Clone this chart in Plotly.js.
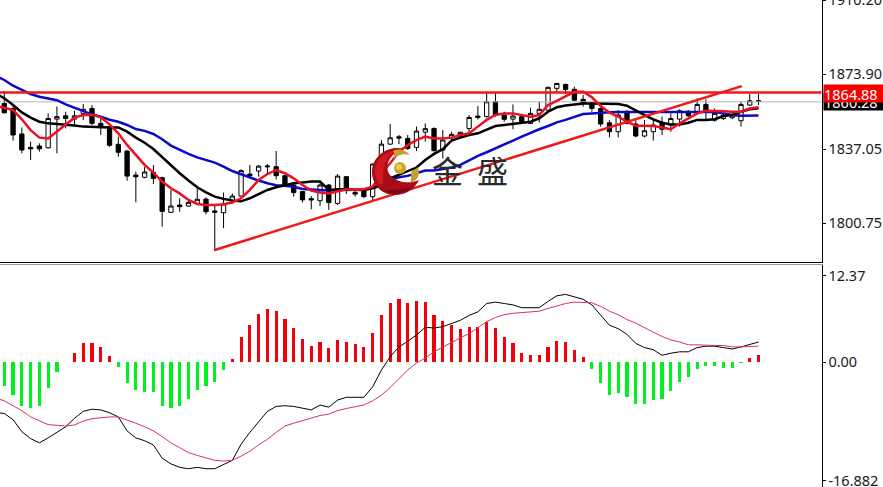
<!DOCTYPE html>
<html><head><meta charset="utf-8">
<script src="https://cdn.plot.ly/plotly-3.0.1.min.js"></script>
<style>html,body{margin:0;padding:0;background:#fff;overflow:hidden}</style>
</head><body><div id="chart" style="width:883px;height:487px"></div>
<script>
const candleOpen=[1859.5,1857.0,1844.5,1837.9,1838.6,1837.7,1851.8,1853.4,1851.8,1854.6,
1857.0,1849.7,1848.1,1839.4,1836.1,1824.3,1823.2,1825.6,1823.0,1806.0,
1809.6,1809.1,1810.4,1812.5,1806.7,1805.8,1811.6,1814.0,1824.8,1826.3,
1828.3,1828.4,1824.0,1819.4,1816.2,1812.7,1811.7,1819.4,1810.4,1823.5,
1815.7,1816.7,1813.7,1833.0,1839.5,1843.1,1842.3,1837.9,1845.4,1847.2,
1836.6,1842.6,1843.5,1847.2,1853.3,1853.0,1860.3,1853.8,1851.8,1853.0,
1849.7,1854.6,1856.2,1866.9,1868.8,1866.4,1861.5,1859.5,1857.0,1850.0,
1845.6,1855.4,1849.4,1843.5,1845.6,1849.7,1848.9,1851.8,1855.6,1854.6,
1859.0,1851.3,1852.1,1852.5,1851.0,1858.7,1860.8];
const candleHigh=[1865.7,1858.7,1847.7,1840.7,1839.9,1854.6,1857.9,1855.4,1855.9,1859.2,
1858.7,1853.0,1848.9,1843.2,1836.6,1826.0,1828.4,1829.2,1823.5,1817.0,
1812.9,1811.7,1817.8,1813.4,1809.6,1815.7,1815.3,1827.1,1829.2,1829.2,
1829.7,1836.1,1824.3,1820.2,1816.2,1814.0,1820.2,1819.9,1824.8,1823.8,
1817.0,1817.0,1830.1,1841.5,1849.4,1844.0,1844.0,1848.1,1849.7,1847.7,
1846.4,1845.6,1845.6,1853.8,1858.2,1864.7,1864.7,1855.4,1859.0,1853.8,
1857.4,1860.3,1867.7,1869.6,1869.3,1867.7,1863.6,1860.3,1857.5,1851.3,
1856.2,1856.2,1851.3,1851.3,1851.3,1853.0,1854.6,1856.6,1856.2,1862.0,
1861.5,1857.0,1854.6,1854.6,1860.3,1864.1,1864.1];
const candleLow=[1854.6,1841.2,1835.0,1831.7,1835.8,1837.4,1835.0,1847.2,1848.1,1851.3,
1848.9,1844.0,1838.2,1833.3,1821.5,1810.9,1822.7,1819.9,1799.0,1805.8,
1806.3,1808.8,1809.6,1805.0,1787.0,1798.2,1810.4,1813.7,1822.7,1823.5,
1825.2,1822.2,1818.6,1813.7,1810.8,1807.5,1809.1,1807.2,1809.6,1815.0,
1813.7,1813.0,1811.7,1828.4,1839.1,1839.5,1836.6,1836.1,1840.7,1835.8,
1832.5,1841.5,1842.3,1844.0,1851.6,1852.6,1853.0,1850.5,1846.8,1849.7,
1849.4,1850.2,1855.4,1865.2,1864.1,1860.6,1857.9,1855.4,1848.1,1842.8,
1842.8,1849.2,1842.8,1842.8,1841.2,1844.0,1845.6,1848.1,1853.0,1853.8,
1851.3,1850.5,1851.3,1851.8,1848.1,1858.2,1858.7];
const candleClose=[1854.9,1844.0,1836.6,1837.2,1837.2,1852.1,1853.0,1852.1,1853.4,1856.6,
1849.7,1848.1,1838.9,1835.5,1823.8,1823.5,1825.8,1822.7,1806.5,1809.1,
1808.8,1810.9,1812.4,1806.3,1806.0,1810.1,1814.0,1826.5,1824.0,1828.7,
1828.7,1824.0,1819.4,1815.7,1812.1,1812.1,1819.4,1810.8,1823.8,1817.3,
1815.0,1813.7,1829.7,1839.5,1842.6,1842.5,1837.4,1845.9,1847.1,1836.3,
1841.5,1844.3,1845.3,1852.6,1852.6,1860.3,1853.8,1851.7,1853.3,1850.0,
1854.6,1856.6,1867.4,1869.3,1866.4,1861.1,1859.5,1857.0,1849.4,1845.6,
1853.8,1849.7,1843.5,1846.1,1848.9,1846.8,1852.1,1855.9,1853.4,1859.0,
1855.9,1854.6,1853.8,1853.8,1859.0,1860.8,1860.5];

// moving averages, first value belongs to the candle just left of the window
const maSlow=[1873.2,1871.0,1868.2,1866.0,1864.1,1862.8,1862.0,1861.1,1859.0,1857.4,1855.9,
1854.1,1853.0,1851.5,1850.5,1848.9,1846.9,1846.0,1844.5,1841.9,1838.8,
1836.6,1834.7,1833.0,1831.7,1830.4,1828.5,1826.3,1824.7,1823.1,1821.6,
1820.3,1819.3,1819.0,1818.6,1817.5,1817.3,1817.0,1816.7,1817.0,1817.0,
1816.8,1817.1,1818.3,1819.4,1821.9,1823.2,1823.9,1825.2,1826.5,1826.5,
1827.1,1828.0,1829.3,1831.7,1833.7,1835.5,1837.3,1839.1,1841.2,1843.2,
1845.1,1846.8,1848.4,1850.2,1851.4,1852.7,1854.3,1854.6,1855.0,1855.1,
1855.3,1855.3,1855.4,1855.3,1855.1,1855.1,1855.1,1855.3,1855.3,1855.1,
1855.3,1855.3,1854.6,1853.8,1853.5,1853.6,1853.6];
const maMid=[1864.4,1862.0,1858.7,1855.1,1852.5,1850.5,1849.7,1849.4,1849.0,1848.7,1848.1,
1847.9,1847.7,1847.7,1847.7,1845.6,1842.7,1840.2,1837.1,1833.0,1828.9,
1825.2,1821.6,1818.3,1815.8,1813.7,1812.6,1811.8,1811.4,1812.9,1815.0,
1817.0,1818.3,1819.3,1820.3,1820.7,1821.1,1821.1,1817.0,1817.3,1817.3,
1817.0,1817.0,1817.8,1819.4,1822.7,1824.4,1826.0,1828.0,1831.7,1834.7,
1837.0,1841.2,1842.7,1844.0,1844.8,1846.8,1848.4,1848.9,1849.4,1850.0,
1850.5,1852.2,1855.4,1857.6,1858.5,1859.0,1859.5,1859.5,1859.5,1859.5,
1859.2,1858.4,1855.9,1853.8,1851.7,1850.0,1849.2,1849.2,1850.0,1851.4,
1851.4,1851.7,1853.3,1853.8,1855.4,1856.6,1857.1];
const maFast=[1858.2,1857.4,1856.2,1851.7,1846.4,1842.7,1842.3,1845.6,1849.2,1852.5,1853.8,
1853.9,1852.7,1849.2,1844.8,1839.1,1834.2,1829.3,1825.5,1821.1,1817.8,
1815.3,1812.1,1810.1,1809.6,1809.6,1810.0,1810.8,1812.9,1817.0,1821.9,
1824.8,1826.8,1825.2,1822.7,1819.4,1816.7,1815.7,1815.3,1816.2,1817.3,
1817.0,1817.3,1818.6,1825.2,1830.1,1835.8,1839.1,1841.5,1843.2,1842.3,
1842.3,1842.7,1844.0,1844.8,1848.1,1851.4,1853.8,1854.6,1854.6,1853.8,
1853.0,1853.8,1858.7,1860.8,1863.1,1865.2,1865.2,1862.5,1858.2,1855.0,
1853.0,1850.5,1848.5,1848.4,1848.4,1847.7,1846.8,1849.7,1852.2,1854.6,
1855.9,1855.9,1855.6,1855.4,1855.4,1857.0,1857.6];

const trendIdx=[24,84.1];
const trendPrice=[1787.5,1868.0];
const resistance=1864.88;
const bidPrice=1860.28;

const histValues=[-3.4,-4.7,-6.2,-6.5,-6.2,-3.6,-1.4,0.1,1.4,2.7,2.7,2.2,0.95,-0.6,-3.0,-4.0,-4.2,-4.2,-6.2,-6.5,
-6.2,-5.2,-3.9,-3.4,-2.8,-1.1,0.5,3.6,5.3,6.9,7.6,7.3,6.2,4.9,3.4,2.4,2.9,2.0,3.2,2.9,
2.6,2.2,4.2,6.7,8.5,9.1,8.5,8.8,8.6,6.7,5.9,5.4,4.7,5.0,5.0,5.7,4.9,3.6,2.8,1.4,
1.1,1.0,2.2,3.0,2.9,1.8,0.7,-0.95,-2.9,-4.7,-4.4,-4.9,-5.9,-6.0,-5.4,-5.2,-4.1,-2.8,-2.1,-0.95,
-0.5,-0.5,-0.8,-0.8,-0.1,0.6,1.0];
const macdLine=[-7.2,-7.3,-8.2,-9.9,-10.9,-11.5,-10.8,-10.0,-9.2,-8.0,-7.0,-6.7,-6.8,-7.2,-7.8,-9.8,-10.8,-11.2,-11.8,-13.7,-14.5,
-15.0,-15.2,-15.0,-15.2,-15.2,-14.6,-14.0,-11.7,-10.0,-8.5,-7.0,-6.3,-6.2,-6.3,-6.6,-6.8,-6.1,-6.4,-5.4,-5.0,
-5.0,-5.0,-3.5,-1.1,0.8,2.2,3.0,3.9,5.0,4.9,5.1,5.6,6.0,6.7,7.2,8.4,8.6,8.4,8.2,7.8,
7.8,7.8,8.7,9.5,9.7,9.4,9.0,8.2,6.8,5.3,4.8,4.0,2.7,2.1,1.8,1.0,1.3,1.5,1.5,2.1,
2.3,2.3,2.1,1.9,2.2,2.6,2.9];
const signalLine=[-5.1,-5.5,-6.2,-6.9,-7.8,-8.4,-8.9,-9.0,-9.1,-8.95,-8.4,-8.05,-7.9,-7.8,-7.8,-8.2,-8.7,-9.2,-9.8,-10.6,-11.5,
-12.2,-12.9,-13.3,-13.7,-14.0,-14.1,-14.0,-13.4,-12.7,-11.8,-11.0,-10.0,-9.1,-8.7,-8.3,-8.0,-7.6,-7.4,-6.9,-6.6,
-6.3,-6.1,-5.5,-4.7,-3.6,-2.3,-1.1,-0.1,0.6,1.5,2.2,2.9,3.5,4.1,4.9,5.8,6.4,6.8,7.0,7.1,
7.2,7.3,7.7,8.1,8.4,8.6,8.6,8.5,8.0,7.3,6.8,6.1,5.6,4.9,4.3,3.7,3.2,2.9,2.5,2.5,
2.4,2.4,2.4,2.2,2.2,2.3,2.3];

const priceTicks=[1910.20,1873.90,1837.05,1800.75];
const priceTickLabels=['1910.20','1873.90','1837.05','1800.75'];
const macdTicks=[12.37,0,-16.882];
const macdTickLabels=['12.37','0.00','-16.882'];
const brandText='金\u00a0\u00a0盛';

const candleIdx=candleOpen.map((_,i)=>i);
const maIdx=maSlow.map((_,i)=>i-1);
const fullSpan=[-2,95];
const W=883,H=487;
const px=x=>x/W, py=y=>1-y/H;
const pathOf=pts=>pts.map(s=>typeof s==='string'?s:px(s[0])+','+py(s[1])).join(' ');
const axisFont={family:'"Noto Sans",sans-serif',size:14.5,color:'#1a1a1a'};

const traces=[
 {type:'scatter',mode:'lines',x:fullSpan,y:[bidPrice,bidPrice],line:{color:'#b4b4b4',width:1},hoverinfo:'skip'},
 {type:'candlestick',x:candleIdx,open:candleOpen,high:candleHigh,low:candleLow,close:candleClose,
  increasing:{line:{color:'#000',width:1},fillcolor:'#fff'},
  decreasing:{line:{color:'#000',width:1},fillcolor:'#000'},whiskerwidth:0,hoverinfo:'skip'},
 {type:'scatter',mode:'lines',x:maIdx,y:maSlow,line:{color:'#0a0ac8',width:2.5}},
 {type:'scatter',mode:'lines',x:maIdx,y:maMid,line:{color:'#000',width:2.5}},
 {type:'scatter',mode:'lines',x:maIdx,y:maFast,line:{color:'#ec1020',width:2.5}},
 {type:'scatter',mode:'lines',x:trendIdx,y:trendPrice,line:{color:'#f01818',width:2.5}},
 {type:'scatter',mode:'lines',x:fullSpan,y:[resistance,resistance],line:{color:'#f01818',width:2.5}},
 {type:'bar',x:candleIdx,y:histValues,width:0.36,xaxis:'x2',yaxis:'y2',
  marker:{color:histValues.map(v=>v>=0?'#f00008':'#00f020'),line:{width:0}}},
 {type:'scatter',mode:'lines',x:maIdx,y:macdLine,xaxis:'x2',yaxis:'y2',line:{color:'#000',width:1}},
 {type:'scatter',mode:'lines',x:maIdx,y:signalLine,xaxis:'x2',yaxis:'y2',line:{color:'#d83068',width:1}}
];

const shapes=[
 {type:'path',xref:'paper',yref:'paper',layer:'above',line:{width:0},fillcolor:'#a80c18',
  path:pathOf(['M',[403,149],'C',[390,145],[372,155],[372,172],'C',[372,185],[382,195],[395,195],'C',[405,195],[414,190],[419,180],'C',[410,184],[398,183],[391,176],'C',[385,170],[385,156],[403,149],'Z'])},
 {type:'path',xref:'paper',yref:'paper',layer:'above',line:{width:0},fillcolor:'#d01822',
  path:pathOf(['M',[398,150],'C',[385,151],[375,160],[375,172],'C',[375,178],[378,183],[382,186],'C',[384,180],[382,172],[385,164],'C',[387,157],[392,153],[398,150],'Z'])},
 {type:'path',xref:'paper',yref:'paper',layer:'above',line:{width:0},fillcolor:'#7e0812',
  path:pathOf(['M',[384,190],'C',[392,196],[404,195],[414,186],'C',[405,190],[394,190],[384,190],'Z'])},
 {type:'path',xref:'paper',yref:'paper',layer:'above',line:{width:0},fillcolor:'#c4a030',
  path:pathOf(['M',[393,151],'C',[398,148],[406,150],[410,155],'C',[404,153],[398,155],[393,159],'C',[394,156],[395,153],[393,151],'Z'])},
 {type:'path',xref:'paper',yref:'paper',layer:'above',line:{width:0},fillcolor:'#c4a030',
  path:pathOf(['M',[418,167],'C',[421,175],[417,181],[410,183],'C',[412,178],[410,174],[412,171],'C',[414,170],[416,169],[418,167],'Z'])},
 {type:'circle',xref:'paper',yref:'paper',layer:'above',line:{width:0},fillcolor:'#c9a62a',
  x0:px(394),x1:px(406),y0:py(174),y1:py(162)},
 {type:'circle',xref:'paper',yref:'paper',layer:'above',line:{width:0},fillcolor:'#e4cc58',
  x0:px(396),x1:px(402),y0:py(170),y1:py(164)}
];

const annotations=[
 {xref:'paper',yref:'y',x:px(823),y:bidPrice,xanchor:'left',yanchor:'middle',showarrow:false,align:'left',
  text:'1860.28',bgcolor:'#000',font:{family:axisFont.family,size:14.5,color:'#fff'},width:70,height:17,borderpad:0},
 {xref:'paper',yref:'y',x:px(823),y:resistance,yshift:-1,xanchor:'left',yanchor:'middle',showarrow:false,align:'left',
  text:'1864.88',bgcolor:'#f80000',font:{family:axisFont.family,size:14.5,color:'#fff'},width:70,height:17,borderpad:0},
 {xref:'paper',yref:'paper',x:px(469.5),y:py(170),xanchor:'center',yanchor:'middle',showarrow:false,
  text:brandText,font:{family:'"Noto Sans CJK SC",sans-serif',size:31,color:'#2a2a2a'}}
];

const layout={
 width:W,height:H,margin:{l:0,r:0,t:0,b:0},paper_bgcolor:'#fff',plot_bgcolor:'#fff',showlegend:false,bargap:0,boxgap:0.3,
 xaxis:{domain:[0,821.5/W],range:[-0.49,93.18],anchor:'y',showgrid:false,zeroline:false,showticklabels:false,ticks:'',
  showline:true,linecolor:'#000',linewidth:1,rangeslider:{visible:false},fixedrange:true},
 yaxis:{domain:[py(262),1],range:[1781.6,1910.3],side:'right',anchor:'x',showgrid:false,zeroline:false,
  tickmode:'array',tickvals:priceTicks,ticktext:priceTickLabels,ticks:'outside',ticklen:3,tickcolor:'#000',tickfont:axisFont,
  ticklabeloverflow:'allow',showline:true,linecolor:'#000',linewidth:1,fixedrange:true},
 xaxis2:{domain:[0,821.5/W],range:[-0.49,93.18],anchor:'y2',side:'top',showgrid:false,zeroline:false,showticklabels:false,ticks:'',
  showline:true,linecolor:'#999',linewidth:1,fixedrange:true},
 yaxis2:{domain:[0,py(264.5)],range:[-17.81,13.97],side:'right',anchor:'x2',showgrid:false,zeroline:false,
  tickmode:'array',tickvals:macdTicks,ticktext:macdTickLabels,ticks:'outside',ticklen:3,tickcolor:'#000',tickfont:axisFont,
  ticklabeloverflow:'allow',showline:true,linecolor:'#000',linewidth:1,fixedrange:true},
 shapes:shapes,annotations:annotations
};
Plotly.newPlot('chart',traces,layout,{staticPlot:true,displayModeBar:false});
</script></body></html>
